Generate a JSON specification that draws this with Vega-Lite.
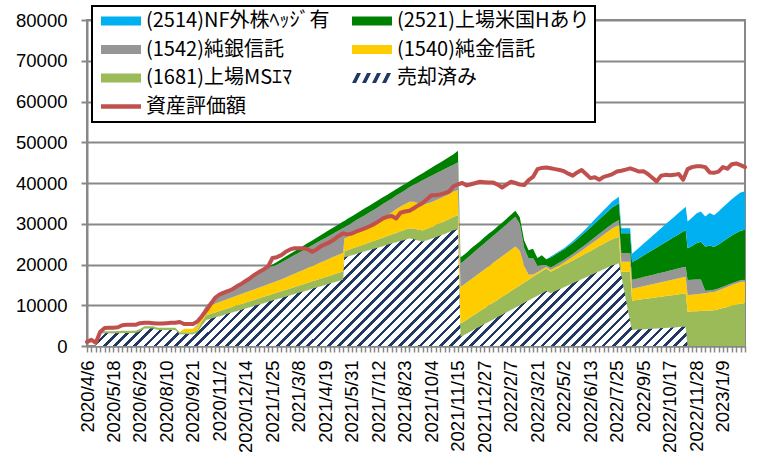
{
"$schema": "https://vega.github.io/schema/vega-lite/v6.json",
"width": 658, "height": 326, "autosize": "none",
"padding": {"left": 87, "top": 20, "right": 24, "bottom": 120},
"background": "white",
"datasets": {
"stack": [
{"d":"2020/4/6","sold":0,"c1681":0,"c1540":0,"c1542":0,"c2521":0,"c2514":0},
{"d":"2020/4/13","sold":0,"c1681":0,"c1540":0,"c1542":0,"c2521":0,"c2514":0},
{"d":"2020/4/20","sold":0,"c1681":0,"c1540":0,"c1542":0,"c2521":0,"c2514":0},
{"d":"2020/4/27","sold":3100,"c1681":500,"c1540":0,"c1542":0,"c2521":0,"c2514":0},
{"d":"2020/5/4","sold":3100,"c1681":500,"c1540":0,"c1542":0,"c2521":0,"c2514":0},
{"d":"2020/5/11","sold":3150,"c1681":500,"c1540":0,"c1542":0,"c2521":0,"c2514":0},
{"d":"2020/5/18","sold":3150,"c1681":500,"c1540":0,"c1542":0,"c2521":0,"c2514":0},
{"d":"2020/5/25","sold":3150,"c1681":520,"c1540":0,"c1542":0,"c2521":0,"c2514":0},
{"d":"2020/6/1","sold":3200,"c1681":520,"c1540":0,"c1542":0,"c2521":0,"c2514":0},
{"d":"2020/6/8","sold":3200,"c1681":520,"c1540":0,"c1542":0,"c2521":0,"c2514":0},
{"d":"2020/6/15","sold":3200,"c1681":520,"c1540":0,"c1542":0,"c2521":0,"c2514":0},
{"d":"2020/6/22","sold":3200,"c1681":530,"c1540":0,"c1542":0,"c2521":0,"c2514":0},
{"d":"2020/6/29","sold":3600,"c1681":550,"c1540":0,"c1542":0,"c2521":0,"c2514":0},
{"d":"2020/7/6","sold":4300,"c1681":550,"c1540":0,"c1542":0,"c2521":0,"c2514":0},
{"d":"2020/7/13","sold":4300,"c1681":550,"c1540":0,"c1542":0,"c2521":0,"c2514":0},
{"d":"2020/7/20","sold":4300,"c1681":550,"c1540":0,"c1542":0,"c2521":0,"c2514":0},
{"d":"2020/7/27","sold":3900,"c1681":550,"c1540":0,"c1542":0,"c2521":0,"c2514":0},
{"d":"2020/8/3","sold":3900,"c1681":550,"c1540":0,"c1542":0,"c2521":0,"c2514":0},
{"d":"2020/8/10","sold":3900,"c1681":550,"c1540":0,"c1542":0,"c2521":0,"c2514":0},
{"d":"2020/8/17","sold":3900,"c1681":550,"c1540":0,"c1542":0,"c2521":0,"c2514":0},
{"d":"2020/8/24","sold":3900,"c1681":550,"c1540":0,"c1542":0,"c2521":0,"c2514":0},
{"d":"2020/8/31","sold":2900,"c1681":450,"c1540":0,"c1542":0,"c2521":0,"c2514":0},
{"d":"2020/9/7","sold":2900,"c1681":450,"c1540":900,"c1542":0,"c2521":0,"c2514":0},
{"d":"2020/9/14","sold":2900,"c1681":450,"c1540":900,"c1542":0,"c2521":0,"c2514":0},
{"d":"2020/9/21","sold":2900,"c1681":450,"c1540":900,"c1542":0,"c2521":0,"c2514":0},
{"d":"2020/9/28","sold":3300,"c1681":600,"c1540":1000,"c1542":300,"c2521":0,"c2514":0},
{"d":"2020/10/5","sold":5000,"c1681":1000,"c1540":1600,"c1542":400,"c2521":0,"c2514":0},
{"d":"2020/10/12","sold":6350,"c1681":1200,"c1540":2040,"c1542":490,"c2521":0,"c2514":0},
{"d":"2020/10/19","sold":6670,"c1681":1230,"c1540":2090,"c1542":750,"c2521":0,"c2514":0},
{"d":"2020/10/26","sold":6990,"c1681":1250,"c1540":2140,"c1542":1020,"c2521":0,"c2514":0},
{"d":"2020/11/2","sold":7310,"c1681":1280,"c1540":2190,"c1542":1280,"c2521":0,"c2514":0},
{"d":"2020/11/9","sold":7630,"c1681":1310,"c1540":2240,"c1542":1540,"c2521":0,"c2514":0},
{"d":"2020/11/16","sold":7950,"c1681":1330,"c1540":2290,"c1542":1810,"c2521":0,"c2514":0},
{"d":"2020/11/23","sold":8270,"c1681":1360,"c1540":2340,"c1542":2070,"c2521":0,"c2514":0},
{"d":"2020/11/30","sold":8590,"c1681":1390,"c1540":2390,"c1542":2330,"c2521":0,"c2514":0},
{"d":"2020/12/7","sold":8910,"c1681":1410,"c1540":2440,"c1542":2600,"c2521":0,"c2514":0},
{"d":"2020/12/14","sold":9230,"c1681":1440,"c1540":2490,"c1542":2860,"c2521":0,"c2514":0},
{"d":"2020/12/21","sold":9550,"c1681":1470,"c1540":2540,"c1542":3120,"c2521":0,"c2514":0},
{"d":"2020/12/28","sold":9870,"c1681":1490,"c1540":2590,"c1542":3390,"c2521":0,"c2514":0},
{"d":"2021/1/4","sold":10190,"c1681":1520,"c1540":2640,"c1542":3650,"c2521":0,"c2514":0},
{"d":"2021/1/11","sold":10510,"c1681":1550,"c1540":2690,"c1542":3910,"c2521":0,"c2514":0},
{"d":"2021/1/18","sold":10830,"c1681":1570,"c1540":2740,"c1542":4180,"c2521":0,"c2514":0},
{"d":"2021/1/25","sold":11150,"c1681":1600,"c1540":2790,"c1542":4040,"c2521":400,"c2514":0},
{"d":"2021/2/1","sold":11470,"c1681":1630,"c1540":2840,"c1542":4000,"c2521":700,"c2514":0},
{"d":"2021/2/8","sold":11790,"c1681":1650,"c1540":2900,"c1542":4160,"c2521":800,"c2514":0},
{"d":"2021/2/15","sold":12110,"c1681":1680,"c1540":3020,"c1542":4290,"c2521":860,"c2514":0},
{"d":"2021/2/22","sold":12430,"c1681":1710,"c1540":3140,"c1542":4430,"c2521":910,"c2514":0},
{"d":"2021/3/1","sold":12750,"c1681":1730,"c1540":3260,"c1542":4570,"c2521":970,"c2514":0},
{"d":"2021/3/8","sold":13070,"c1681":1760,"c1540":3380,"c1542":4700,"c2521":1030,"c2514":0},
{"d":"2021/3/15","sold":13390,"c1681":1790,"c1540":3500,"c1542":4830,"c2521":1090,"c2514":0},
{"d":"2021/3/22","sold":13710,"c1681":1810,"c1540":3620,"c1542":4980,"c2521":1140,"c2514":0},
{"d":"2021/3/29","sold":14030,"c1681":1840,"c1540":3740,"c1542":5110,"c2521":1200,"c2514":0},
{"d":"2021/4/5","sold":14350,"c1681":1870,"c1540":3860,"c1542":5240,"c2521":1260,"c2514":0},
{"d":"2021/4/12","sold":14670,"c1681":1890,"c1540":3980,"c1542":5390,"c2521":1310,"c2514":0},
{"d":"2021/4/19","sold":14990,"c1681":1920,"c1540":4100,"c1542":5520,"c2521":1370,"c2514":0},
{"d":"2021/4/26","sold":15310,"c1681":1950,"c1540":4220,"c1542":5650,"c2521":1430,"c2514":0},
{"d":"2021/5/3","sold":15630,"c1681":1970,"c1540":4340,"c1542":5790,"c2521":1490,"c2514":0},
{"d":"2021/5/10","sold":15950,"c1681":2000,"c1540":4460,"c1542":5930,"c2521":1540,"c2514":0},
{"d":"2021/5/17","sold":16270,"c1681":2030,"c1540":4580,"c1542":6060,"c2521":1600,"c2514":0},
{"d":"2021/5/19","sold":21770,"c1681":1500,"c1540":3100,"c1542":2730,"c2521":1600,"c2514":0},
{"d":"2021/5/24","sold":21970,"c1681":1550,"c1540":3240,"c1542":2840,"c2521":1600,"c2514":0},
{"d":"2021/5/31","sold":22290,"c1681":1620,"c1540":3380,"c1542":2920,"c2521":1650,"c2514":0},
{"d":"2021/6/7","sold":22600,"c1681":1680,"c1540":3510,"c1542":3130,"c2521":1600,"c2514":0},
{"d":"2021/6/14","sold":22920,"c1681":1750,"c1540":3650,"c1542":3210,"c2521":1650,"c2514":0},
{"d":"2021/6/21","sold":23240,"c1681":1820,"c1540":3790,"c1542":3290,"c2521":1700,"c2514":0},
{"d":"2021/6/28","sold":23550,"c1681":1890,"c1540":3930,"c1542":3480,"c2521":1650,"c2514":0},
{"d":"2021/7/5","sold":23870,"c1681":1960,"c1540":4060,"c1542":3570,"c2521":1700,"c2514":0},
{"d":"2021/7/12","sold":24190,"c1681":2020,"c1540":4200,"c1542":3710,"c2521":1700,"c2514":0},
{"d":"2021/7/19","sold":24500,"c1681":2090,"c1540":4600,"c1542":3640,"c2521":1650,"c2514":0},
{"d":"2021/7/26","sold":24820,"c1681":2160,"c1540":5000,"c1542":3560,"c2521":1600,"c2514":0},
{"d":"2021/8/2","sold":25140,"c1681":2230,"c1540":5400,"c1542":3380,"c2521":1650,"c2514":0},
{"d":"2021/8/9","sold":25450,"c1681":2300,"c1540":5800,"c1542":3360,"c2521":1550,"c2514":0},
{"d":"2021/8/16","sold":25770,"c1681":2360,"c1540":6100,"c1542":3290,"c2521":1600,"c2514":0},
{"d":"2021/8/23","sold":26080,"c1681":2430,"c1540":6300,"c1542":3420,"c2521":1550,"c2514":0},
{"d":"2021/8/30","sold":26400,"c1681":2500,"c1540":6500,"c1542":3540,"c2521":1500,"c2514":0},
{"d":"2021/9/6","sold":26200,"c1681":2580,"c1540":6600,"c1542":4170,"c2521":1550,"c2514":0},
{"d":"2021/9/13","sold":25900,"c1681":2660,"c1540":6500,"c1542":5050,"c2521":1650,"c2514":0},
{"d":"2021/9/20","sold":25600,"c1681":2740,"c1540":6300,"c1542":6030,"c2521":1750,"c2514":0},
{"d":"2021/9/27","sold":25950,"c1681":2820,"c1540":6200,"c1542":6260,"c2521":1850,"c2514":0},
{"d":"2021/10/4","sold":26300,"c1681":2900,"c1540":6100,"c1542":6490,"c2521":1950,"c2514":0},
{"d":"2021/10/11","sold":26700,"c1681":2980,"c1540":6100,"c1542":6570,"c2521":2050,"c2514":0},
{"d":"2021/10/18","sold":27100,"c1681":3060,"c1540":6100,"c1542":6650,"c2521":2150,"c2514":0},
{"d":"2021/10/25","sold":27500,"c1681":3140,"c1540":6100,"c1542":6680,"c2521":2300,"c2514":0},
{"d":"2021/11/1","sold":27950,"c1681":3220,"c1540":6100,"c1542":6710,"c2521":2400,"c2514":0},
{"d":"2021/11/8","sold":28400,"c1681":3300,"c1540":6200,"c1542":6590,"c2521":2550,"c2514":0},
{"d":"2021/11/15","sold":28700,"c1681":3400,"c1540":6200,"c1542":6800,"c2521":2800,"c2514":0},
{"d":"2021/11/19","sold":2290,"c1681":3270,"c1540":9000,"c1542":5730,"c2521":1470,"c2514":0},
{"d":"2021/11/22","sold":2470,"c1681":3300,"c1540":9030,"c1542":5760,"c2521":1500,"c2514":0},
{"d":"2021/11/29","sold":3050,"c1681":3420,"c1540":9130,"c1542":5890,"c2521":1450,"c2514":0},
{"d":"2021/12/6","sold":3630,"c1681":3540,"c1540":9230,"c1542":6020,"c2521":1550,"c2514":0},
{"d":"2021/12/13","sold":4210,"c1681":3660,"c1540":9330,"c1542":6150,"c2521":1500,"c2514":0},
{"d":"2021/12/20","sold":4790,"c1681":3780,"c1540":9430,"c1542":6280,"c2521":1400,"c2514":0},
{"d":"2021/12/27","sold":5370,"c1681":3900,"c1540":9530,"c1542":6400,"c2521":1500,"c2514":0},
{"d":"2022/1/3","sold":5950,"c1681":4020,"c1540":9630,"c1542":6530,"c2521":1450,"c2514":0},
{"d":"2022/1/10","sold":6530,"c1681":4140,"c1540":9730,"c1542":6660,"c2521":1350,"c2514":0},
{"d":"2022/1/17","sold":7110,"c1681":4260,"c1540":9830,"c1542":6790,"c2521":1400,"c2514":0},
{"d":"2022/1/24","sold":7690,"c1681":4380,"c1540":9930,"c1542":6920,"c2521":1300,"c2514":0},
{"d":"2022/1/31","sold":8270,"c1681":4500,"c1540":10030,"c1542":7050,"c2521":1400,"c2514":0},
{"d":"2022/2/7","sold":8850,"c1681":4620,"c1540":10130,"c1542":7180,"c2521":1450,"c2514":0},
{"d":"2022/2/14","sold":9430,"c1681":4740,"c1540":10230,"c1542":7310,"c2521":1500,"c2514":0},
{"d":"2022/2/21","sold":10010,"c1681":4860,"c1540":8500,"c1542":6600,"c2521":1600,"c2514":0},
{"d":"2022/2/28","sold":10590,"c1681":4980,"c1540":4000,"c1542":4500,"c2521":1800,"c2514":0},
{"d":"2022/3/7","sold":11170,"c1681":5100,"c1540":1200,"c1542":4000,"c2521":2000,"c2514":0},
{"d":"2022/3/14","sold":11750,"c1681":5220,"c1540":600,"c1542":4000,"c2521":2300,"c2514":0},
{"d":"2022/3/21","sold":12330,"c1681":5340,"c1540":400,"c1542":1600,"c2521":1900,"c2514":0},
{"d":"2022/3/28","sold":12910,"c1681":5460,"c1540":400,"c1542":1100,"c2521":2400,"c2514":0},
{"d":"2022/4/4","sold":13490,"c1681":5580,"c1540":300,"c1542":500,"c2521":1400,"c2514":0},
{"d":"2022/4/11","sold":12920,"c1681":5320,"c1540":400,"c1542":600,"c2521":2500,"c2514":200},
{"d":"2022/4/18","sold":13410,"c1681":5360,"c1540":470,"c1542":620,"c2521":2530,"c2514":230},
{"d":"2022/4/25","sold":13900,"c1681":5410,"c1540":530,"c1542":630,"c2521":2570,"c2514":270},
{"d":"2022/5/2","sold":14400,"c1681":5450,"c1540":600,"c1542":650,"c2521":2600,"c2514":300},
{"d":"2022/5/9","sold":14890,"c1681":5520,"c1540":750,"c1542":680,"c2521":2650,"c2514":350},
{"d":"2022/5/16","sold":15380,"c1681":5600,"c1540":900,"c1542":700,"c2521":2700,"c2514":400},
{"d":"2022/5/23","sold":15870,"c1681":5700,"c1540":1070,"c1542":750,"c2521":2830,"c2514":500},
{"d":"2022/5/30","sold":16360,"c1681":5800,"c1540":1230,"c1542":800,"c2521":2970,"c2514":600},
{"d":"2022/6/6","sold":16850,"c1681":5900,"c1540":1400,"c1542":850,"c2521":3100,"c2514":700},
{"d":"2022/6/13","sold":17340,"c1681":6000,"c1540":1600,"c1542":900,"c2521":3250,"c2514":850},
{"d":"2022/6/20","sold":17830,"c1681":6100,"c1540":1800,"c1542":950,"c2521":3400,"c2514":1000},
{"d":"2022/6/27","sold":18330,"c1681":6200,"c1540":2000,"c1542":1000,"c2521":3550,"c2514":1120},
{"d":"2022/7/4","sold":18820,"c1681":6300,"c1540":2200,"c1542":1050,"c2521":3700,"c2514":1250},
{"d":"2022/7/11","sold":19310,"c1681":6380,"c1540":2420,"c1542":1110,"c2521":3830,"c2514":1370},
{"d":"2022/7/18","sold":19800,"c1681":6470,"c1540":2640,"c1542":1170,"c2521":3970,"c2514":1480},
{"d":"2022/7/25","sold":20100,"c1681":6520,"c1540":2800,"c1542":1210,"c2521":4050,"c2514":1550},
{"d":"2022/7/28","sold":20290,"c1681":6550,"c1540":2860,"c1542":1230,"c2521":4100,"c2514":1600},
{"d":"2022/8/1","sold":17200,"c1681":1040,"c1540":2450,"c1542":2060,"c2521":4900,"c2514":1220},
{"d":"2022/8/15","sold":5860,"c1681":12380,"c1540":2450,"c1542":2060,"c2521":4900,"c2514":1220},
{"d":"2022/8/18","sold":3930,"c1681":7200,"c1540":2900,"c1542":2200,"c2521":4300,"c2514":2100},
{"d":"2022/8/22","sold":3970,"c1681":7250,"c1540":2960,"c1542":2210,"c2521":4520,"c2514":2270},
{"d":"2022/8/29","sold":4030,"c1681":7330,"c1540":3050,"c1542":2230,"c2521":4910,"c2514":2570},
{"d":"2022/9/5","sold":4100,"c1681":7410,"c1540":3150,"c1542":2260,"c2521":5300,"c2514":2870},
{"d":"2022/9/12","sold":4170,"c1681":7490,"c1540":3250,"c1542":2280,"c2521":5680,"c2514":3160},
{"d":"2022/9/19","sold":4230,"c1681":7570,"c1540":3340,"c1542":2300,"c2521":6070,"c2514":3460},
{"d":"2022/9/26","sold":4300,"c1681":7650,"c1540":3440,"c1542":2320,"c2521":6460,"c2514":3760},
{"d":"2022/10/3","sold":4370,"c1681":7730,"c1540":3540,"c1542":2340,"c2521":6850,"c2514":4060},
{"d":"2022/10/10","sold":4440,"c1681":7810,"c1540":3640,"c1542":2360,"c2521":7240,"c2514":4360},
{"d":"2022/10/17","sold":4500,"c1681":7890,"c1540":3730,"c1542":2380,"c2521":7630,"c2514":4660},
{"d":"2022/10/24","sold":4570,"c1681":7970,"c1540":3830,"c1542":2400,"c2521":8010,"c2514":4950},
{"d":"2022/10/31","sold":4640,"c1681":8050,"c1540":3930,"c1542":2430,"c2521":8400,"c2514":5250},
{"d":"2022/11/7","sold":4700,"c1681":8130,"c1540":4020,"c1542":2450,"c2521":8790,"c2514":5550},
{"d":"2022/11/11","sold":4740,"c1681":8180,"c1540":4080,"c1542":2460,"c2521":9010,"c2514":5720},
{"d":"2022/11/14","sold":0,"c1681":8420,"c1540":4090,"c1542":3690,"c2521":7770,"c2514":6560},
{"d":"2022/11/21","sold":0,"c1681":8500,"c1540":4100,"c1542":3650,"c2521":8300,"c2514":6900},
{"d":"2022/11/28","sold":0,"c1681":8550,"c1540":4150,"c1542":3600,"c2521":8900,"c2514":7300},
{"d":"2022/12/5","sold":0,"c1681":8600,"c1540":4200,"c1542":3500,"c2521":9300,"c2514":7400},
{"d":"2022/12/12","sold":0,"c1681":8650,"c1540":4300,"c1542":600,"c2521":10800,"c2514":7400},
{"d":"2022/12/19","sold":0,"c1681":8700,"c1540":4400,"c1542":550,"c2521":11000,"c2514":8000},
{"d":"2022/12/26","sold":0,"c1681":8800,"c1540":4450,"c1542":550,"c2521":10500,"c2514":7800},
{"d":"2023/1/2","sold":0,"c1681":9000,"c1540":4600,"c1542":500,"c2521":10800,"c2514":8100},
{"d":"2023/1/9","sold":0,"c1681":9300,"c1540":4750,"c1542":480,"c2521":11100,"c2514":8400},
{"d":"2023/1/16","sold":0,"c1681":9600,"c1540":4900,"c1542":460,"c2521":11400,"c2514":8700},
{"d":"2023/1/23","sold":0,"c1681":9900,"c1540":5050,"c1542":440,"c2521":11700,"c2514":8900},
{"d":"2023/1/30","sold":0,"c1681":10150,"c1540":5200,"c1542":420,"c2521":11950,"c2514":9150},
{"d":"2023/2/6","sold":0,"c1681":10400,"c1540":5300,"c1542":410,"c2521":12200,"c2514":9350},
{"d":"2023/2/13","sold":0,"c1681":10500,"c1540":5350,"c1542":400,"c2521":12300,"c2514":9450}
],
"line": [
{"d":"2020/4/6","asset":1000},{"d":"2020/4/13","asset":1500},{"d":"2020/4/20","asset":800},{"d":"2020/4/27","asset":3500},{"d":"2020/5/4","asset":4400},{"d":"2020/5/11","asset":4500},{"d":"2020/5/18","asset":4500},{"d":"2020/5/25","asset":4600},{"d":"2020/6/1","asset":5100},{"d":"2020/6/8","asset":5200},{"d":"2020/6/15","asset":5200},{"d":"2020/6/22","asset":5200},{"d":"2020/6/29","asset":5600},{"d":"2020/7/6","asset":5700},{"d":"2020/7/13","asset":5700},{"d":"2020/7/20","asset":5600},{"d":"2020/7/27","asset":5500},{"d":"2020/8/3","asset":5500},{"d":"2020/8/10","asset":5600},{"d":"2020/8/17","asset":5700},{"d":"2020/8/24","asset":5700},{"d":"2020/8/31","asset":5900},{"d":"2020/9/7","asset":5400},{"d":"2020/9/14","asset":5400},{"d":"2020/9/21","asset":5400},{"d":"2020/9/28","asset":6000},{"d":"2020/10/5","asset":7300},{"d":"2020/10/12","asset":8700},{"d":"2020/10/19","asset":10300},{"d":"2020/10/26","asset":11800},{"d":"2020/11/2","asset":12600},{"d":"2020/11/9","asset":13100},{"d":"2020/11/16","asset":13500},{"d":"2020/11/23","asset":14000},{"d":"2020/11/30","asset":14700},{"d":"2020/12/7","asset":15300},{"d":"2020/12/14","asset":16000},{"d":"2020/12/21","asset":16700},{"d":"2020/12/28","asset":17500},{"d":"2021/1/4","asset":18200},{"d":"2021/1/11","asset":18800},{"d":"2021/1/18","asset":19500},{"d":"2021/1/25","asset":21600},{"d":"2021/2/1","asset":21800},{"d":"2021/2/8","asset":22300},{"d":"2021/2/15","asset":23100},{"d":"2021/2/22","asset":23700},{"d":"2021/3/1","asset":24000},{"d":"2021/3/8","asset":24000},{"d":"2021/3/15","asset":24000},{"d":"2021/3/22","asset":23700},{"d":"2021/3/29","asset":23100},{"d":"2021/4/5","asset":23700},{"d":"2021/4/12","asset":24500},{"d":"2021/4/19","asset":25000},{"d":"2021/4/26","asset":25500},{"d":"2021/5/3","asset":26200},{"d":"2021/5/10","asset":27000},{"d":"2021/5/17","asset":27650},{"d":"2021/5/24","asset":27400},{"d":"2021/5/31","asset":27600},{"d":"2021/6/7","asset":28100},{"d":"2021/6/14","asset":28500},{"d":"2021/6/21","asset":28900},{"d":"2021/6/28","asset":29400},{"d":"2021/7/5","asset":29900},{"d":"2021/7/12","asset":30600},{"d":"2021/7/19","asset":31300},{"d":"2021/7/26","asset":31700},{"d":"2021/8/2","asset":31900},{"d":"2021/8/9","asset":31300},{"d":"2021/8/16","asset":32700},{"d":"2021/8/23","asset":33000},{"d":"2021/8/30","asset":33200},{"d":"2021/9/6","asset":33800},{"d":"2021/9/13","asset":34500},{"d":"2021/9/20","asset":35100},{"d":"2021/9/27","asset":36000},{"d":"2021/10/4","asset":37000},{"d":"2021/10/11","asset":37000},{"d":"2021/10/18","asset":37200},{"d":"2021/10/25","asset":37500},{"d":"2021/11/1","asset":37900},{"d":"2021/11/8","asset":39200},{"d":"2021/11/15","asset":39700},{"d":"2021/11/22","asset":40000},{"d":"2021/11/29","asset":39400},{"d":"2021/12/6","asset":39700},{"d":"2021/12/13","asset":40000},{"d":"2021/12/20","asset":40300},{"d":"2021/12/27","asset":40200},{"d":"2022/1/3","asset":40100},{"d":"2022/1/10","asset":40100},{"d":"2022/1/17","asset":39600},{"d":"2022/1/24","asset":38900},{"d":"2022/1/31","asset":39600},{"d":"2022/2/7","asset":40300},{"d":"2022/2/14","asset":40000},{"d":"2022/2/21","asset":39600},{"d":"2022/2/28","asset":39500},{"d":"2022/3/7","asset":40700},{"d":"2022/3/14","asset":41500},{"d":"2022/3/21","asset":43400},{"d":"2022/3/28","asset":43700},{"d":"2022/4/4","asset":43800},{"d":"2022/4/11","asset":43600},{"d":"2022/4/18","asset":43400},{"d":"2022/4/25","asset":43200},{"d":"2022/5/2","asset":42900},{"d":"2022/5/9","asset":42300},{"d":"2022/5/16","asset":41800},{"d":"2022/5/23","asset":42600},{"d":"2022/5/30","asset":43200},{"d":"2022/6/6","asset":42200},{"d":"2022/6/13","asset":41200},{"d":"2022/6/20","asset":41400},{"d":"2022/6/27","asset":40800},{"d":"2022/7/4","asset":41500},{"d":"2022/7/11","asset":41800},{"d":"2022/7/18","asset":42200},{"d":"2022/7/25","asset":42800},{"d":"2022/8/1","asset":43000},{"d":"2022/8/8","asset":43300},{"d":"2022/8/15","asset":43600},{"d":"2022/8/22","asset":43200},{"d":"2022/8/29","asset":42800},{"d":"2022/9/5","asset":42900},{"d":"2022/9/12","asset":42200},{"d":"2022/9/19","asset":41300},{"d":"2022/9/26","asset":40400},{"d":"2022/10/3","asset":41800},{"d":"2022/10/10","asset":42000},{"d":"2022/10/17","asset":41900},{"d":"2022/10/24","asset":42000},{"d":"2022/10/31","asset":42200},{"d":"2022/11/7","asset":40800},{"d":"2022/11/14","asset":43400},{"d":"2022/11/21","asset":43900},{"d":"2022/11/28","asset":44100},{"d":"2022/12/5","asset":44100},{"d":"2022/12/12","asset":43900},{"d":"2022/12/19","asset":42600},{"d":"2022/12/26","asset":42500},{"d":"2023/1/2","asset":42800},{"d":"2023/1/9","asset":43900},{"d":"2023/1/16","asset":43500},{"d":"2023/1/23","asset":44600},{"d":"2023/1/30","asset":44800},{"d":"2023/2/6","asset":44400},{"d":"2023/2/13","asset":43900}
]
},
"encoding": {
 "x": {"field": "d", "type": "temporal", "title": null,
  "scale": {"domain": [{"year":2020,"month":4,"date":6},{"year":2023,"month":2,"date":13}], "nice": false},
  "axis": {
   "values": [{"year":2020,"month":4,"date":6},{"year":2020,"month":4,"date":13},{"year":2020,"month":4,"date":20},{"year":2020,"month":4,"date":27},{"year":2020,"month":4,"date":34},{"year":2020,"month":4,"date":41},{"year":2020,"month":4,"date":48},{"year":2020,"month":4,"date":55},{"year":2020,"month":4,"date":62},{"year":2020,"month":4,"date":69},{"year":2020,"month":4,"date":76},{"year":2020,"month":4,"date":83},{"year":2020,"month":4,"date":90},{"year":2020,"month":4,"date":97},{"year":2020,"month":4,"date":104},{"year":2020,"month":4,"date":111},{"year":2020,"month":4,"date":118},{"year":2020,"month":4,"date":125},{"year":2020,"month":4,"date":132},{"year":2020,"month":4,"date":139},{"year":2020,"month":4,"date":146},{"year":2020,"month":4,"date":153},{"year":2020,"month":4,"date":160},{"year":2020,"month":4,"date":167},{"year":2020,"month":4,"date":174},{"year":2020,"month":4,"date":181},{"year":2020,"month":4,"date":188},{"year":2020,"month":4,"date":195},{"year":2020,"month":4,"date":202},{"year":2020,"month":4,"date":209},{"year":2020,"month":4,"date":216},{"year":2020,"month":4,"date":223},{"year":2020,"month":4,"date":230},{"year":2020,"month":4,"date":237},{"year":2020,"month":4,"date":244},{"year":2020,"month":4,"date":251},{"year":2020,"month":4,"date":258},{"year":2020,"month":4,"date":265},{"year":2020,"month":4,"date":272},{"year":2020,"month":4,"date":279},{"year":2020,"month":4,"date":286},{"year":2020,"month":4,"date":293},{"year":2020,"month":4,"date":300},{"year":2020,"month":4,"date":307},{"year":2020,"month":4,"date":314},{"year":2020,"month":4,"date":321},{"year":2020,"month":4,"date":328},{"year":2020,"month":4,"date":335},{"year":2020,"month":4,"date":342},{"year":2020,"month":4,"date":349},{"year":2020,"month":4,"date":356},{"year":2020,"month":4,"date":363},{"year":2020,"month":4,"date":370},{"year":2020,"month":4,"date":377},{"year":2020,"month":4,"date":384},{"year":2020,"month":4,"date":391},{"year":2020,"month":4,"date":398},{"year":2020,"month":4,"date":405},{"year":2020,"month":4,"date":412},{"year":2020,"month":4,"date":419},{"year":2020,"month":4,"date":426},{"year":2020,"month":4,"date":433},{"year":2020,"month":4,"date":440},{"year":2020,"month":4,"date":447},{"year":2020,"month":4,"date":454},{"year":2020,"month":4,"date":461},{"year":2020,"month":4,"date":468},{"year":2020,"month":4,"date":475},{"year":2020,"month":4,"date":482},{"year":2020,"month":4,"date":489},{"year":2020,"month":4,"date":496},{"year":2020,"month":4,"date":503},{"year":2020,"month":4,"date":510},{"year":2020,"month":4,"date":517},{"year":2020,"month":4,"date":524},{"year":2020,"month":4,"date":531},{"year":2020,"month":4,"date":538},{"year":2020,"month":4,"date":545},{"year":2020,"month":4,"date":552},{"year":2020,"month":4,"date":559},{"year":2020,"month":4,"date":566},{"year":2020,"month":4,"date":573},{"year":2020,"month":4,"date":580},{"year":2020,"month":4,"date":587},{"year":2020,"month":4,"date":594},{"year":2020,"month":4,"date":601},{"year":2020,"month":4,"date":608},{"year":2020,"month":4,"date":615},{"year":2020,"month":4,"date":622},{"year":2020,"month":4,"date":629},{"year":2020,"month":4,"date":636},{"year":2020,"month":4,"date":643},{"year":2020,"month":4,"date":650},{"year":2020,"month":4,"date":657},{"year":2020,"month":4,"date":664},{"year":2020,"month":4,"date":671},{"year":2020,"month":4,"date":678},{"year":2020,"month":4,"date":685},{"year":2020,"month":4,"date":692},{"year":2020,"month":4,"date":699},{"year":2020,"month":4,"date":706},{"year":2020,"month":4,"date":713},{"year":2020,"month":4,"date":720},{"year":2020,"month":4,"date":727},{"year":2020,"month":4,"date":734},{"year":2020,"month":4,"date":741},{"year":2020,"month":4,"date":748},{"year":2020,"month":4,"date":755},{"year":2020,"month":4,"date":762},{"year":2020,"month":4,"date":769},{"year":2020,"month":4,"date":776},{"year":2020,"month":4,"date":783},{"year":2020,"month":4,"date":790},{"year":2020,"month":4,"date":797},{"year":2020,"month":4,"date":804},{"year":2020,"month":4,"date":811},{"year":2020,"month":4,"date":818},{"year":2020,"month":4,"date":825},{"year":2020,"month":4,"date":832},{"year":2020,"month":4,"date":839},{"year":2020,"month":4,"date":846},{"year":2020,"month":4,"date":853},{"year":2020,"month":4,"date":860},{"year":2020,"month":4,"date":867},{"year":2020,"month":4,"date":874},{"year":2020,"month":4,"date":881},{"year":2020,"month":4,"date":888},{"year":2020,"month":4,"date":895},{"year":2020,"month":4,"date":902},{"year":2020,"month":4,"date":909},{"year":2020,"month":4,"date":916},{"year":2020,"month":4,"date":923},{"year":2020,"month":4,"date":930},{"year":2020,"month":4,"date":937},{"year":2020,"month":4,"date":944},{"year":2020,"month":4,"date":951},{"year":2020,"month":4,"date":958},{"year":2020,"month":4,"date":965},{"year":2020,"month":4,"date":972},{"year":2020,"month":4,"date":979},{"year":2020,"month":4,"date":986},{"year":2020,"month":4,"date":993},{"year":2020,"month":4,"date":1000},{"year":2020,"month":4,"date":1007},{"year":2020,"month":4,"date":1014},{"year":2020,"month":4,"date":1021},{"year":2020,"month":4,"date":1028},{"year":2020,"month":4,"date":1035},{"year":2020,"month":4,"date":1042},{"year":2020,"month":4,"date":1049}],
   "labelExpr": "(round((datum.value - time(datetime(2020,3,6)))/604800000) % 6 == 0) ? timeFormat(datum.value, '%Y/%-m/%-d') : ''",
   "labelAngle": 270, "labelAlign": "right", "labelBaseline": "middle",
   "labelOverlap": false, "labelFlush": false, "labelBound": false, "grid": false,
   "domainColor": "#888888", "domainWidth": 2, "tickColor": "#888888", "tickWidth": 1.5, "tickSize": 6,
   "labelPadding": 8, "labelFont": "Liberation Sans", "labelFontSize": 18.5, "labelColor": "#000000"
  }
 }
},
"layer": [
 {
  "data": {"name": "stack"},
  "transform": [
   {"fold": ["sold","c1681","c1540","c1542","c2521","c2514"], "as": ["key","val"]},
   {"window": [{"op": "row_number", "as": "rank"}], "groupby": ["d"]}
  ],
  "mark": {"type": "area", "interpolate": "linear"},
  "encoding": {
   "y": {"field": "val", "type": "quantitative", "stack": "zero", "title": null,
    "scale": {"domain": [0, 80000], "nice": false},
    "axis": {"values": [0,10000,20000,30000,40000,50000,60000,70000,80000], "format": "d",
     "labelFlush": false, "labelOverlap": false, "grid": true, "gridColor": "#888888", "gridWidth": 2,
     "domainColor": "#888888", "domainWidth": 2, "tickColor": "#888888", "tickWidth": 2, "tickSize": 6,
     "labelPadding": 14, "labelFont": "Liberation Sans", "labelFontSize": 18.5, "labelColor": "#000000"}},
   "color": {"field": "key", "type": "nominal",
    "scale": {"domain": ["c2514","c2521","c1542","c1540","c1681","sold","asset"],
              "range": ["#00B0F0","#008000","#969696","#FFCC00","#9BBB59","#1F3864","#C0504D"]},
    "legend": {"orient": "none", "legendX": 5, "legendY": -14, "columns": 2, "direction": "horizontal", "title": null,
     "fillColor": "#ffffff", "strokeColor": "#000000", "padding": 5,
     "symbolSize": 1600, "clipHeight": 20, "rowPadding": 8.5, "columnPadding": 18,
     "labelFont": "Noto Sans CJK JP", "labelFontSize": 20, "labelColor": "#000000",
     "labelOffset": 5, "symbolOffset": 4, "labelLimit": 400,
     "labelExpr": "{'c2514':'(2514)NF外株ﾍｯｼﾞ有','c2521':'(2521)上場米国Hあり','c1542':'(1542)純銀信託','c1540':'(1540)純金信託','c1681':'(1681)上場MSｴﾏ','sold':'売却済み','asset':'資産評価額'}[datum.label]",
     "encode": {
      "legend": {"update": {"strokeWidth": {"value": 2}, "stroke": {"value": "#000000"}, "fill": {"value": "#ffffff"}}},
      "symbols": {"update": {
       "shape": {"signal": "datum.value === 'sold' ? 'M-1,0.25L-0.8,0.25L-0.55,-0.25L-0.75,-0.25Z M-0.5,0.25L-0.3,0.25L-0.05,-0.25L-0.25,-0.25Z M0,0.25L0.2,0.25L0.45,-0.25L0.25,-0.25Z M0.5,0.25L0.7,0.25L0.95,-0.25L0.75,-0.25Z' : datum.value === 'asset' ? 'M-1,-0.11L1,-0.11L1,0.11L-1,0.11Z' : 'M-1,-0.22L1,-0.22L1,0.22L-1,0.22Z'"},
       "fill": {"signal": "scale('color', datum.value)"},
       "stroke": {"value": "transparent"}, "strokeWidth": {"value": 0}, "opacity": {"value": 1}, "fillOpacity": {"value": 1}}}
     }}
   },
   "order": {"field": "rank", "type": "quantitative"}
  }
 },
 {
  "data": {"name": "stack"},
  "mark": {"type": "area", "interpolate": "linear",
   "fill": {"gradient": "linear", "x1": 0, "y1": 0, "x2": 1.2, "y2": 0.2134, "stops": [
{"offset":0,"color":"#ffffff"},{"offset":0.1,"color":"#ffffff"},
{"offset":0.1,"color":"#1f3864"},{"offset":0.1045,"color":"#1f3864"},{"offset":0.1045,"color":"#ffffff"},{"offset":0.1125,"color":"#ffffff"},
{"offset":0.1125,"color":"#1f3864"},{"offset":0.117,"color":"#1f3864"},{"offset":0.117,"color":"#ffffff"},{"offset":0.125,"color":"#ffffff"},
{"offset":0.125,"color":"#1f3864"},{"offset":0.1295,"color":"#1f3864"},{"offset":0.1295,"color":"#ffffff"},{"offset":0.1375,"color":"#ffffff"},
{"offset":0.1375,"color":"#1f3864"},{"offset":0.142,"color":"#1f3864"},{"offset":0.142,"color":"#ffffff"},{"offset":0.15,"color":"#ffffff"},
{"offset":0.15,"color":"#1f3864"},{"offset":0.1545,"color":"#1f3864"},{"offset":0.1545,"color":"#ffffff"},{"offset":0.1625,"color":"#ffffff"},
{"offset":0.1625,"color":"#1f3864"},{"offset":0.167,"color":"#1f3864"},{"offset":0.167,"color":"#ffffff"},{"offset":0.175,"color":"#ffffff"},
{"offset":0.175,"color":"#1f3864"},{"offset":0.1795,"color":"#1f3864"},{"offset":0.1795,"color":"#ffffff"},{"offset":0.1875,"color":"#ffffff"},
{"offset":0.1875,"color":"#1f3864"},{"offset":0.192,"color":"#1f3864"},{"offset":0.192,"color":"#ffffff"},{"offset":0.2,"color":"#ffffff"},
{"offset":0.2,"color":"#1f3864"},{"offset":0.2045,"color":"#1f3864"},{"offset":0.2045,"color":"#ffffff"},{"offset":0.2125,"color":"#ffffff"},
{"offset":0.2125,"color":"#1f3864"},{"offset":0.217,"color":"#1f3864"},{"offset":0.217,"color":"#ffffff"},{"offset":0.225,"color":"#ffffff"},
{"offset":0.225,"color":"#1f3864"},{"offset":0.2295,"color":"#1f3864"},{"offset":0.2295,"color":"#ffffff"},{"offset":0.2375,"color":"#ffffff"},
{"offset":0.2375,"color":"#1f3864"},{"offset":0.242,"color":"#1f3864"},{"offset":0.242,"color":"#ffffff"},{"offset":0.25,"color":"#ffffff"},
{"offset":0.25,"color":"#1f3864"},{"offset":0.2545,"color":"#1f3864"},{"offset":0.2545,"color":"#ffffff"},{"offset":0.2625,"color":"#ffffff"},
{"offset":0.2625,"color":"#1f3864"},{"offset":0.267,"color":"#1f3864"},{"offset":0.267,"color":"#ffffff"},{"offset":0.275,"color":"#ffffff"},
{"offset":0.275,"color":"#1f3864"},{"offset":0.2795,"color":"#1f3864"},{"offset":0.2795,"color":"#ffffff"},{"offset":0.2875,"color":"#ffffff"},
{"offset":0.2875,"color":"#1f3864"},{"offset":0.292,"color":"#1f3864"},{"offset":0.292,"color":"#ffffff"},{"offset":0.3,"color":"#ffffff"},
{"offset":0.3,"color":"#1f3864"},{"offset":0.3045,"color":"#1f3864"},{"offset":0.3045,"color":"#ffffff"},{"offset":0.3125,"color":"#ffffff"},
{"offset":0.3125,"color":"#1f3864"},{"offset":0.317,"color":"#1f3864"},{"offset":0.317,"color":"#ffffff"},{"offset":0.325,"color":"#ffffff"},
{"offset":0.325,"color":"#1f3864"},{"offset":0.3295,"color":"#1f3864"},{"offset":0.3295,"color":"#ffffff"},{"offset":0.3375,"color":"#ffffff"},
{"offset":0.3375,"color":"#1f3864"},{"offset":0.342,"color":"#1f3864"},{"offset":0.342,"color":"#ffffff"},{"offset":0.35,"color":"#ffffff"},
{"offset":0.35,"color":"#1f3864"},{"offset":0.3545,"color":"#1f3864"},{"offset":0.3545,"color":"#ffffff"},{"offset":0.3625,"color":"#ffffff"},
{"offset":0.3625,"color":"#1f3864"},{"offset":0.367,"color":"#1f3864"},{"offset":0.367,"color":"#ffffff"},{"offset":0.375,"color":"#ffffff"},
{"offset":0.375,"color":"#1f3864"},{"offset":0.3795,"color":"#1f3864"},{"offset":0.3795,"color":"#ffffff"},{"offset":0.3875,"color":"#ffffff"},
{"offset":0.3875,"color":"#1f3864"},{"offset":0.392,"color":"#1f3864"},{"offset":0.392,"color":"#ffffff"},{"offset":0.4,"color":"#ffffff"},
{"offset":0.4,"color":"#1f3864"},{"offset":0.4045,"color":"#1f3864"},{"offset":0.4045,"color":"#ffffff"},{"offset":0.4125,"color":"#ffffff"},
{"offset":0.4125,"color":"#1f3864"},{"offset":0.417,"color":"#1f3864"},{"offset":0.417,"color":"#ffffff"},{"offset":0.425,"color":"#ffffff"},
{"offset":0.425,"color":"#1f3864"},{"offset":0.4295,"color":"#1f3864"},{"offset":0.4295,"color":"#ffffff"},{"offset":0.4375,"color":"#ffffff"},
{"offset":0.4375,"color":"#1f3864"},{"offset":0.442,"color":"#1f3864"},{"offset":0.442,"color":"#ffffff"},{"offset":0.45,"color":"#ffffff"},
{"offset":0.45,"color":"#1f3864"},{"offset":0.4545,"color":"#1f3864"},{"offset":0.4545,"color":"#ffffff"},{"offset":0.4625,"color":"#ffffff"},
{"offset":0.4625,"color":"#1f3864"},{"offset":0.467,"color":"#1f3864"},{"offset":0.467,"color":"#ffffff"},{"offset":0.475,"color":"#ffffff"},
{"offset":0.475,"color":"#1f3864"},{"offset":0.4795,"color":"#1f3864"},{"offset":0.4795,"color":"#ffffff"},{"offset":0.4875,"color":"#ffffff"},
{"offset":0.4875,"color":"#1f3864"},{"offset":0.492,"color":"#1f3864"},{"offset":0.492,"color":"#ffffff"},{"offset":0.5,"color":"#ffffff"},
{"offset":0.5,"color":"#1f3864"},{"offset":0.5045,"color":"#1f3864"},{"offset":0.5045,"color":"#ffffff"},{"offset":0.5125,"color":"#ffffff"},
{"offset":0.5125,"color":"#1f3864"},{"offset":0.517,"color":"#1f3864"},{"offset":0.517,"color":"#ffffff"},{"offset":0.525,"color":"#ffffff"},
{"offset":0.525,"color":"#1f3864"},{"offset":0.5295,"color":"#1f3864"},{"offset":0.5295,"color":"#ffffff"},{"offset":0.5375,"color":"#ffffff"},
{"offset":0.5375,"color":"#1f3864"},{"offset":0.542,"color":"#1f3864"},{"offset":0.542,"color":"#ffffff"},{"offset":0.55,"color":"#ffffff"},
{"offset":0.55,"color":"#1f3864"},{"offset":0.5545,"color":"#1f3864"},{"offset":0.5545,"color":"#ffffff"},{"offset":0.5625,"color":"#ffffff"},
{"offset":0.5625,"color":"#1f3864"},{"offset":0.567,"color":"#1f3864"},{"offset":0.567,"color":"#ffffff"},{"offset":0.575,"color":"#ffffff"},
{"offset":0.575,"color":"#1f3864"},{"offset":0.5795,"color":"#1f3864"},{"offset":0.5795,"color":"#ffffff"},{"offset":0.5875,"color":"#ffffff"},
{"offset":0.5875,"color":"#1f3864"},{"offset":0.592,"color":"#1f3864"},{"offset":0.592,"color":"#ffffff"},{"offset":0.6,"color":"#ffffff"},
{"offset":0.6,"color":"#1f3864"},{"offset":0.6045,"color":"#1f3864"},{"offset":0.6045,"color":"#ffffff"},{"offset":0.6125,"color":"#ffffff"},
{"offset":0.6125,"color":"#1f3864"},{"offset":0.617,"color":"#1f3864"},{"offset":0.617,"color":"#ffffff"},{"offset":0.625,"color":"#ffffff"},
{"offset":0.625,"color":"#1f3864"},{"offset":0.6295,"color":"#1f3864"},{"offset":0.6295,"color":"#ffffff"},{"offset":0.6375,"color":"#ffffff"},
{"offset":0.6375,"color":"#1f3864"},{"offset":0.642,"color":"#1f3864"},{"offset":0.642,"color":"#ffffff"},{"offset":0.65,"color":"#ffffff"},
{"offset":0.65,"color":"#1f3864"},{"offset":0.6545,"color":"#1f3864"},{"offset":0.6545,"color":"#ffffff"},{"offset":0.6625,"color":"#ffffff"},
{"offset":0.6625,"color":"#1f3864"},{"offset":0.667,"color":"#1f3864"},{"offset":0.667,"color":"#ffffff"},{"offset":0.675,"color":"#ffffff"},
{"offset":0.675,"color":"#1f3864"},{"offset":0.6795,"color":"#1f3864"},{"offset":0.6795,"color":"#ffffff"},{"offset":0.6875,"color":"#ffffff"},
{"offset":0.6875,"color":"#1f3864"},{"offset":0.692,"color":"#1f3864"},{"offset":0.692,"color":"#ffffff"},{"offset":0.7,"color":"#ffffff"},
{"offset":0.7,"color":"#1f3864"},{"offset":0.7045,"color":"#1f3864"},{"offset":0.7045,"color":"#ffffff"},{"offset":0.7125,"color":"#ffffff"},
{"offset":0.7125,"color":"#1f3864"},{"offset":0.717,"color":"#1f3864"},{"offset":0.717,"color":"#ffffff"},{"offset":0.725,"color":"#ffffff"},
{"offset":0.725,"color":"#1f3864"},{"offset":0.7295,"color":"#1f3864"},{"offset":0.7295,"color":"#ffffff"},{"offset":0.7375,"color":"#ffffff"},
{"offset":0.7375,"color":"#1f3864"},{"offset":0.742,"color":"#1f3864"},{"offset":0.742,"color":"#ffffff"},{"offset":0.75,"color":"#ffffff"},
{"offset":0.75,"color":"#1f3864"},{"offset":0.7545,"color":"#1f3864"},{"offset":0.7545,"color":"#ffffff"},{"offset":0.7625,"color":"#ffffff"},
{"offset":0.7625,"color":"#1f3864"},{"offset":0.767,"color":"#1f3864"},{"offset":0.767,"color":"#ffffff"},{"offset":0.775,"color":"#ffffff"},
{"offset":0.775,"color":"#1f3864"},{"offset":0.7795,"color":"#1f3864"},{"offset":0.7795,"color":"#ffffff"},{"offset":0.7875,"color":"#ffffff"},
{"offset":0.7875,"color":"#1f3864"},{"offset":0.792,"color":"#1f3864"},{"offset":0.792,"color":"#ffffff"},{"offset":0.8,"color":"#ffffff"},
{"offset":0.8,"color":"#1f3864"},{"offset":0.8045,"color":"#1f3864"},{"offset":0.8045,"color":"#ffffff"},{"offset":0.8125,"color":"#ffffff"},
{"offset":0.8125,"color":"#1f3864"},{"offset":0.817,"color":"#1f3864"},{"offset":0.817,"color":"#ffffff"},{"offset":0.825,"color":"#ffffff"},
{"offset":0.825,"color":"#1f3864"},{"offset":0.8295,"color":"#1f3864"},{"offset":0.8295,"color":"#ffffff"},{"offset":0.8375,"color":"#ffffff"},
{"offset":0.8375,"color":"#1f3864"},{"offset":0.842,"color":"#1f3864"},{"offset":0.842,"color":"#ffffff"},{"offset":0.85,"color":"#ffffff"},
{"offset":0.85,"color":"#1f3864"},{"offset":0.8545,"color":"#1f3864"},{"offset":0.8545,"color":"#ffffff"},{"offset":0.8625,"color":"#ffffff"},
{"offset":0.8625,"color":"#1f3864"},{"offset":0.867,"color":"#1f3864"},{"offset":0.867,"color":"#ffffff"},{"offset":0.875,"color":"#ffffff"},
{"offset":0.875,"color":"#1f3864"},{"offset":0.8795,"color":"#1f3864"},{"offset":0.8795,"color":"#ffffff"},{"offset":0.8875,"color":"#ffffff"},
{"offset":0.8875,"color":"#1f3864"},{"offset":0.892,"color":"#1f3864"},{"offset":0.892,"color":"#ffffff"},{"offset":0.9,"color":"#ffffff"},
{"offset":0.9,"color":"#1f3864"},{"offset":0.9045,"color":"#1f3864"},{"offset":0.9045,"color":"#ffffff"},{"offset":0.9125,"color":"#ffffff"},
{"offset":0.9125,"color":"#1f3864"},{"offset":0.917,"color":"#1f3864"},{"offset":0.917,"color":"#ffffff"},{"offset":0.925,"color":"#ffffff"},
{"offset":0.925,"color":"#1f3864"},{"offset":0.9295,"color":"#1f3864"},{"offset":0.9295,"color":"#ffffff"},{"offset":0.9375,"color":"#ffffff"},
{"offset":0.9375,"color":"#1f3864"},{"offset":0.942,"color":"#1f3864"},{"offset":0.942,"color":"#ffffff"},{"offset":0.95,"color":"#ffffff"},
{"offset":0.95,"color":"#1f3864"},{"offset":0.9545,"color":"#1f3864"},{"offset":0.9545,"color":"#ffffff"},{"offset":0.9625,"color":"#ffffff"},
{"offset":0.9625,"color":"#1f3864"},{"offset":0.967,"color":"#1f3864"},{"offset":0.967,"color":"#ffffff"},{"offset":0.975,"color":"#ffffff"},
{"offset":0.975,"color":"#1f3864"},{"offset":0.9795,"color":"#1f3864"},{"offset":0.9795,"color":"#ffffff"},{"offset":1,"color":"#ffffff"}
   ]}},
  "encoding": {
   "y": {"field": "sold", "type": "quantitative", "stack": null, "title": null, "scale": {"domain": [0, 80000], "nice": false}}
  }
 },
 {
  "data": {"name": "line"},
  "transform": [{"fold": ["asset"], "as": ["key","val"]}],
  "mark": {"type": "line", "strokeWidth": 4, "strokeJoin": "round", "strokeCap": "round", "interpolate": "linear"},
  "encoding": {
   "y": {"field": "val", "type": "quantitative", "title": null, "scale": {"domain": [0, 80000], "nice": false}},
   "color": {"field": "key", "type": "nominal",
    "scale": {"domain": ["c2514","c2521","c1542","c1540","c1681","sold","asset"],
              "range": ["#00B0F0","#008000","#969696","#FFCC00","#9BBB59","#1F3864","#C0504D"]}}
  }
 }
],
"config": {"view": {"stroke": "#888888", "strokeWidth": 2}, "area": {"line": false}}
}
